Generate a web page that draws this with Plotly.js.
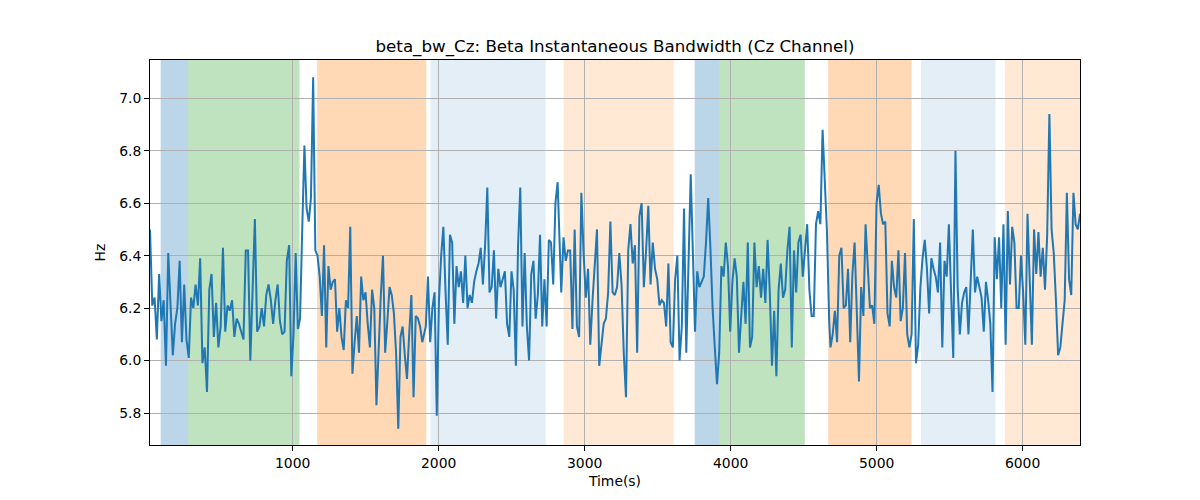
<!DOCTYPE html>
<html>
<head>
<meta charset="utf-8">
<script src="https://cdn.plot.ly/plotly-3.0.1.min.js"></script>
<style>
  body { margin: 0; background: #ffffff; }
  #chart { width: 1200px; height: 500px; }
</style>
</head>
<body>
<div id="chart"></div>
<script>
// readings of beta_bw_Cz, split in chunks; each chunk has its first/last time (s)
var chunkTimes = [
  [23, 960], [976, 1903], [1912, 2815], [2840, 3742],
  [3756, 4675], [4684, 5600], [5614, 6393]
];

var bw1 = [6.50, 6.21, 6.24, 6.08, 6.33, 6.15, 6.23, 5.98, 6.41, 6.23,
  6.02, 6.14, 6.20, 6.38, 6.07, 6.29, 6.08, 6.01, 6.24, 6.20,
  6.29, 6.21, 6.39, 5.99, 6.05, 5.88, 6.27, 6.33, 6.09, 6.22,
  6.05, 6.13, 6.43, 6.11, 6.21, 6.19, 6.23, 6.09, 6.16, 6.14,
  6.11, 6.08, 6.42, 6.42, 6.00, 6.25, 6.54, 6.11, 6.13, 6.20,
  6.13, 6.25, 6.29, 6.23, 6.14, 6.23, 6.29, 6.15, 6.10, 6.11, 6.38];

var bw2 = [6.44, 5.94, 6.10, 6.41, 6.12, 6.16, 6.50, 6.82, 6.58, 6.53,
  6.62, 7.08, 6.42, 6.40, 6.32, 6.17, 6.44, 6.05, 6.36, 6.27,
  6.30, 6.31, 6.11, 6.20, 6.09, 6.04, 6.23, 6.20, 6.51, 5.95,
  6.07, 6.17, 6.03, 6.32, 6.23, 6.26, 6.14, 6.05, 6.27, 6.20,
  5.83, 6.07, 6.25, 6.40, 6.03, 6.15, 6.28, 6.25, 6.18, 6.03,
  5.74, 6.09, 6.13, 6.02, 5.93, 6.10, 6.25, 5.86, 6.17, 6.16,
  6.13, 6.07, 6.11];

var bw3 = [6.13, 6.32, 6.07, 6.20, 6.26, 5.79, 6.23, 6.40, 6.51, 6.26,
  6.06, 6.48, 6.45, 6.14, 6.36, 6.28, 6.34, 6.22, 6.40, 6.20,
  6.25, 6.22, 6.30, 6.34, 6.37, 6.43, 6.29, 6.44, 6.66, 6.26,
  6.28, 6.42, 6.16, 6.35, 6.28, 6.31, 6.34, 6.14, 6.09, 6.34,
  6.27, 5.98, 6.44, 6.66, 6.13, 6.41, 6.13, 6.00, 6.33, 6.38,
  6.16, 6.25, 6.48, 6.13, 6.31, 6.13, 6.46, 6.45, 6.29, 6.60, 6.68];

var bw4 = [6.26, 6.47, 6.38, 6.42, 6.42, 6.12, 6.50, 6.13, 6.09, 6.64,
  6.41, 6.24, 6.35, 6.06, 6.23, 6.39, 6.50, 5.98, 6.06, 6.14,
  6.16, 6.26, 6.53, 6.26, 6.25, 6.28, 6.41, 6.29, 6.03, 5.86,
  6.42, 6.52, 6.37, 6.44, 6.03, 6.55, 6.60, 6.28, 6.42, 6.59,
  6.29, 6.45, 6.35, 6.31, 6.21, 6.23, 6.22, 6.13, 6.37, 6.07,
  6.05, 6.31, 6.40, 6.00, 6.13, 6.58, 6.03, 6.34, 6.71, 6.40];

var bw5 = [6.11, 6.34, 6.28, 6.30, 6.32, 6.45, 6.62, 6.43, 6.20, 6.05,
  5.91, 6.03, 6.36, 6.32, 6.45, 6.36, 6.11, 6.30, 6.39, 6.32,
  6.03, 6.17, 6.30, 6.14, 6.45, 6.05, 6.09, 6.45, 6.28, 6.36,
  6.24, 6.35, 6.22, 6.46, 6.26, 5.98, 6.19, 5.94, 6.27, 6.37,
  6.24, 6.27, 6.42, 6.51, 6.05, 6.42, 6.26, 6.45, 6.48, 6.32,
  6.42, 6.52, 6.27, 6.17, 6.17, 6.52, 6.57, 6.52, 6.88, 6.67,
  6.49, 6.15];

var bw6 = [6.05, 6.10, 6.19, 6.07, 6.40, 6.43, 6.20, 6.21, 6.35, 6.07,
  6.33, 6.45, 6.20, 5.92, 6.28, 6.17, 6.52, 6.33, 6.20, 6.21,
  6.14, 6.60, 6.67, 6.56, 6.52, 6.53, 6.18, 6.13, 6.38, 6.28,
  6.24, 6.42, 6.15, 6.20, 6.41, 6.10, 6.05, 6.10, 6.54, 5.99,
  6.06, 6.28, 6.39, 6.46, 6.35, 6.18, 6.39, 6.35, 6.32, 6.26,
  6.45, 6.05, 6.38, 6.32, 6.52, 6.26, 6.01, 6.80, 6.28, 6.10,
  6.22, 6.26];

var bw7 = [6.28, 6.10, 6.30, 6.50, 6.26, 6.32, 6.28, 6.24, 6.11, 6.30,
  6.23, 6.14, 5.88, 6.47, 6.31, 6.47, 6.20, 6.52, 6.06, 6.57,
  6.29, 6.51, 6.45, 6.20, 6.20, 6.40, 6.26, 6.06, 6.56, 6.30,
  6.06, 6.50, 6.33, 6.49, 6.32, 6.43, 6.27, 6.48, 6.94, 6.50,
  6.41, 6.23, 6.02, 6.05, 6.13, 6.23, 6.64, 6.31, 6.25, 6.64,
  6.52, 6.50, 6.56];

// marked intervals (s) and their kind
var spanStart = [96, 284, 1168, 1944, 2856, 3754, 3921, 4668, 5303, 5879];
var spanEnd = [284, 1047, 1915, 2733, 3610, 3921, 4508, 5239, 5815, 6393];
var spanKind = ['blue', 'green', 'orange', 'paleBlue', 'paleOrange',
  'blue', 'green', 'orange', 'paleBlue', 'paleOrange'];

var xTicks = [1000, 2000, 3000, 4000, 5000, 6000];
var yTicks = [5.8, 6.0, 6.2, 6.4, 6.6, 6.8, 7.0];

var kindColor = {
  blue: 'rgba(31,119,180,0.3)',
  green: 'rgba(44,160,44,0.3)',
  orange: 'rgba(255,127,14,0.3)',
  paleBlue: 'rgba(31,119,180,0.12)',
  paleOrange: 'rgba(255,127,14,0.18)',
};

var chunks = [bw1, bw2, bw3, bw4, bw5, bw6, bw7];
var timeS = [], bw = [];
chunks.forEach((vals, c) => {
  var t0 = chunkTimes[c][0], t1 = chunkTimes[c][1];
  vals.forEach((v, i) => {
    timeS.push(t0 + (t1 - t0) * i / (vals.length - 1));
    bw.push(v);
  });
});

var trace = {
  x: timeS,
  y: bw,
  type: 'scatter',
  mode: 'lines',
  line: { color: '#1f77b4', width: 2 },
  hoverinfo: 'x+y',
};

var shapes = spanStart.map((s, i) => ({
  type: 'rect',
  xref: 'x',
  yref: 'paper',
  x0: s,
  x1: spanEnd[i],
  y0: 0,
  y1: 1,
  fillcolor: kindColor[spanKind[i]],
  line: { width: 0 },
  layer: 'below',
}));

var axisCommon = {
  showgrid: true,
  gridcolor: '#b0b0b0',
  gridwidth: 1,
  zeroline: false,
  showline: true,
  mirror: true,
  linecolor: '#000000',
  linewidth: 1,
  ticks: 'outside',
  ticklen: 5,
  tickcolor: '#000000',
  tickfont: { size: 13.9, color: '#000000' },
};

var layout = {
  width: 1200,
  height: 500,
  font: { family: 'DejaVu Sans, sans-serif', color: '#000000' },
  paper_bgcolor: '#ffffff',
  plot_bgcolor: '#ffffff',
  showlegend: false,
  margin: { l: 150, r: 120, t: 60, b: 55 },
  title: {
    text: 'beta_bw_Cz: Beta Instantaneous Bandwidth (Cz Channel)',
    font: { size: 16.7 },
    x: 0.5125,
    xanchor: 'center',
    y: 0.908,
    yanchor: 'middle',
  },
  xaxis: Object.assign({}, axisCommon, {
    range: [23, 6393],
    tickvals: xTicks,
    title: { text: 'Time(s)', font: { size: 13.9 }, standoff: 6 },
  }),
  yaxis: Object.assign({}, axisCommon, {
    range: [5.678, 7.146],
    tickvals: yTicks,
    tickformat: '.1f',
    title: { text: 'Hz', font: { size: 13.9 }, standoff: 10 },
  }),
  shapes: shapes,
};

Plotly.newPlot('chart', [trace], layout, { displayModeBar: false, staticPlot: true });
</script>
</body>
</html>
